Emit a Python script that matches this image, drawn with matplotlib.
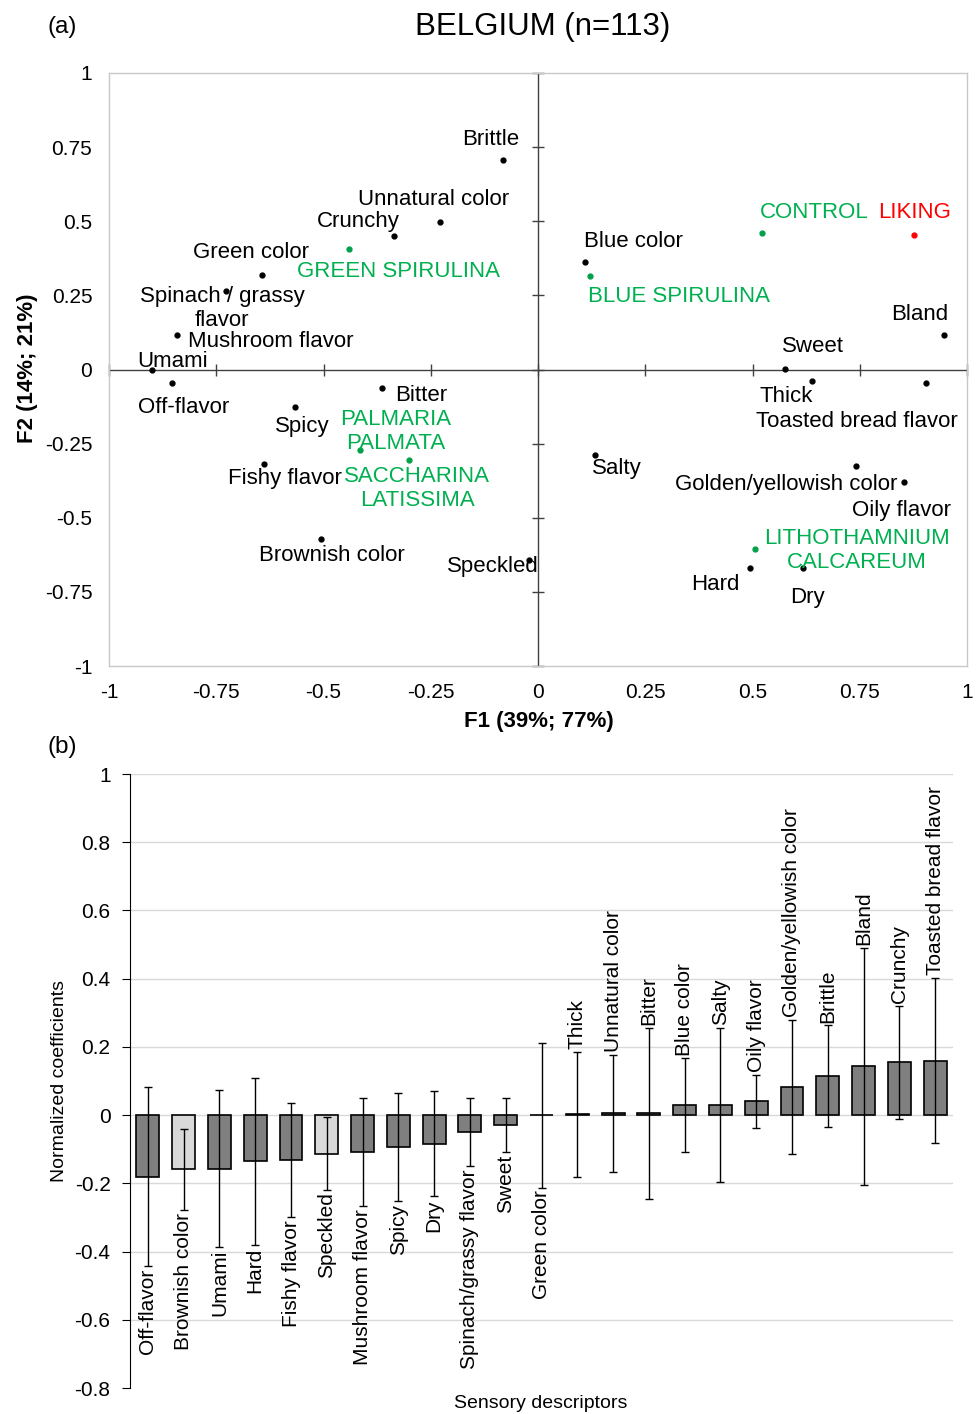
"""Recreate the Belgium PCA map and normalized coefficients chart."""

import matplotlib

matplotlib.use("Agg")

import matplotlib.pyplot as plt
import numpy as np

plt.rcParams["font.family"] = ["Liberation Sans", "DejaVu Sans"]

# ---- (a) correlation map ----
sensory_terms = [
    "Brittle", "Unnatural color", "Crunchy", "Green color", "Spinach / grassy\nflavor",
    "Mushroom flavor", "Umami", "Off-flavor", "Bitter", "Spicy", "Fishy flavor",
    "Brownish color", "Speckled", "Blue color", "Bland", "Sweet", "Thick",
    "Toasted bread flavor", "Salty", "Golden/yellowish color", "Oily flavor", "Hard", "Dry",
]
sensory_f1 = [-0.082, -0.228, -0.336, -0.643, -0.727, -0.841, -0.900, -0.853, -0.364, -0.566,
              -0.639, -0.506, -0.021, 0.110, 0.946, 0.576, 0.639, 0.904, 0.133, 0.741,
              0.853, 0.494, 0.618]
sensory_f2 = [0.705, 0.496, 0.449, 0.320, 0.266, 0.115, -0.003, -0.047, -0.061, -0.128,
              -0.320, -0.570, -0.644, 0.361, 0.118, 0.003, -0.040, -0.044, -0.290, -0.324,
              -0.378, -0.668, -0.668]

products = ["GREEN SPIRULINA", "PALMARIA\nPALMATA", "SACCHARINA\nLATISSIMA",
            "BLUE SPIRULINA", "CONTROL", "LITHOTHAMNIUM\nCALCAREUM"]
product_f1 = [-0.440, -0.415, -0.300, 0.121, 0.522, 0.506]
product_f2 = [0.405, -0.273, -0.304, 0.314, 0.459, -0.604]

liking_f1 = [0.876]
liking_f2 = [0.455]

# label offsets in pixels (dx, dy up) from each point
term_offsets = [(-12, 21), (-7, 23), (-36, 15), (-11, 22), (-4, -18), (94, -6), (21, 9),
                (12, -24), (39, -8), (7, -19), (21, -14), (11, -17), (-36, -6), (48, 21),
                (-24, 20), (28, 22), (-26, -15), (-69, -39), (22, -13), (-70, -19),
                (-2, -29), (-35, -17), (4, -30)]
product_offsets = [(49, -22), (36, 19), (8, -29), (89, -20), (52, 21), (102, -2)]

# ---- (b) normalized coefficients ----
descriptors = [
    "Off-flavor", "Brownish color", "Umami", "Hard", "Fishy flavor", "Speckled",
    "Mushroom flavor", "Spicy", "Dry", "Spinach/grassy flavor", "Sweet", "Green color",
    "Thick", "Unnatural color", "Bitter", "Blue color", "Salty", "Oily flavor",
    "Golden/yellowish color", "Brittle", "Bland", "Crunchy", "Toasted bread flavor",
]
coefficients = [-0.180, -0.159, -0.157, -0.135, -0.132, -0.113, -0.109, -0.093, -0.084,
                -0.050, -0.029, -0.001, 0.002, 0.005, 0.005, 0.029, 0.030, 0.040, 0.083,
                0.114, 0.143, 0.155, 0.160]
conf_half = [0.261, 0.119, 0.230, 0.245, 0.168, 0.106, 0.158, 0.159, 0.154, 0.100, 0.080,
             0.212, 0.184, 0.172, 0.251, 0.137, 0.226, 0.078, 0.197, 0.149, 0.348, 0.165,
             0.243]
significant = [True, False, True, True, True, False, True, True, True, True, True, True,
               True, True, True, True, True, True, True, True, True, True, True]

GREEN = "#00b050"
GREEN_DOT = "#00a04a"
RED = "#ff0000"


def draw_map(ax):
    ax.set_xlim(-1, 1)
    ax.set_ylim(-1, 1)
    for sp in ax.spines.values():
        sp.set_color("#c8c8c8")
        sp.set_linewidth(1.0)
    ax.axhline(0, color="#404040", lw=1.0, zorder=1)
    ax.axvline(0, color="#404040", lw=1.0, zorder=1)
    ticks = np.arange(-1, 1.01, 0.25)
    ax.plot(ticks, np.zeros_like(ticks), ls="none", marker="|", ms=9, mew=1.0,
            color="#404040", zorder=1, clip_on=False)
    ax.plot(np.zeros_like(ticks), ticks, ls="none", marker="_", ms=9, mew=1.0,
            color="#404040", zorder=1, clip_on=False)
    ax.set_xticks(ticks)
    ax.set_yticks(ticks)
    labels = ["-1", "-0.75", "-0.5", "-0.25", "0", "0.25", "0.5", "0.75", "1"]
    ax.set_xticklabels(labels)
    ax.set_yticklabels(labels)
    ax.tick_params(length=0, labelsize=15, pad=12)

    ax.plot(sensory_f1, sensory_f2, ls="none", marker="o", ms=3.5, color="black", zorder=3)
    for name, x, y, off in zip(sensory_terms, sensory_f1, sensory_f2, term_offsets):
        ax.annotate(name, (x, y), xytext=off, textcoords="offset pixels", ha="center",
                    va="center", fontsize=16, color="black", linespacing=1.15)

    ax.plot(product_f1, product_f2, ls="none", marker="o", ms=3.5, color=GREEN_DOT, zorder=3)
    for name, x, y, off in zip(products, product_f1, product_f2, product_offsets):
        ax.annotate(name, (x, y), xytext=off, textcoords="offset pixels", ha="center",
                    va="center", fontsize=16, color=GREEN, linespacing=1.15)

    ax.plot(liking_f1, liking_f2, ls="none", marker="o", ms=3.5, color=RED, zorder=3)
    ax.annotate("LIKING", (liking_f1[0], liking_f2[0]), xytext=(1, 22),
                textcoords="offset pixels", ha="center", va="center", fontsize=16, color=RED)


def draw_bars(ax):
    x = np.arange(len(descriptors))
    colors = ["#7f7f7f" if s else "#d9d9d9" for s in significant]
    for yv in np.arange(-0.6, 1.01, 0.2):
        ax.axhline(yv, color="#d9d9d9", lw=1.0, zorder=0)
    ax.bar(x, coefficients, width=0.64, color=colors, edgecolor="black", linewidth=1.2,
           zorder=2)
    ax.errorbar(x, coefficients, yerr=conf_half, fmt="none", ecolor="black", elinewidth=1.0,
                capsize=3, capthick=1.0, zorder=3)
    for xi, name, c, e in zip(x, descriptors, coefficients, conf_half):
        if c < 0:
            ax.annotate(name, (xi, c - e), xytext=(0, -2), textcoords="offset points",
                        rotation=90, ha="center", va="top", fontsize=15)
        else:
            ax.annotate(name, (xi, c + e), xytext=(0, 2), textcoords="offset points",
                        rotation=90, ha="center", va="bottom", fontsize=15)

    ax.set_xlim(-0.5, len(descriptors) - 0.5)
    ax.set_ylim(-0.8, 1.0)
    ax.set_yticks(np.round(np.arange(-0.8, 1.01, 0.2), 1))
    ax.set_yticklabels(["-0.8", "-0.6", "-0.4", "-0.2", "0", "0.2", "0.4", "0.6", "0.8", "1"])
    ax.set_xticks([])
    for side in ("top", "right", "bottom"):
        ax.spines[side].set_visible(False)
    ax.spines["left"].set_color("black")
    ax.tick_params(axis="y", length=6, direction="out", labelsize=15, pad=8)


def main():
    fig = plt.figure(figsize=(9.8, 14.14), dpi=100)
    W, H = 980, 1414

    ax_a = fig.add_axes([109 / W, 1 - 666 / H, 858 / W, 593 / H])
    draw_map(ax_a)
    fig.text(543 / W, 1 - 27 / H, "BELGIUM (n=113)", ha="center", va="center", fontsize=22.5)
    fig.text(62 / W, 1 - 27 / H, "(a)", ha="center", va="center", fontsize=17.5)
    fig.text(539 / W, 1 - 721 / H, "F1 (39%; 77%)", ha="center", va="center", fontsize=16,
             fontweight="bold")
    fig.text(27 / W, 1 - 368 / H, "F2 (14%; 21%)", ha="center", va="center", fontsize=16,
             fontweight="bold", rotation=90)

    ax_b = fig.add_axes([130 / W, 1 - 1388 / H, 823 / W, 614 / H])
    draw_bars(ax_b)
    fig.text(62 / W, 1 - 747 / H, "(b)", ha="center", va="center", fontsize=17.5)
    fig.text(60 / W, 1 - 1081 / H, "Normalized coefficients", ha="center", va="center",
             fontsize=14, rotation=90)
    fig.text(541 / W, 1 - 1403 / H, "Sensory descriptors", ha="center", va="center",
             fontsize=14)

    fig.savefig("out.png", dpi=100)
    plt.close(fig)


if __name__ == "__main__":
    main()
